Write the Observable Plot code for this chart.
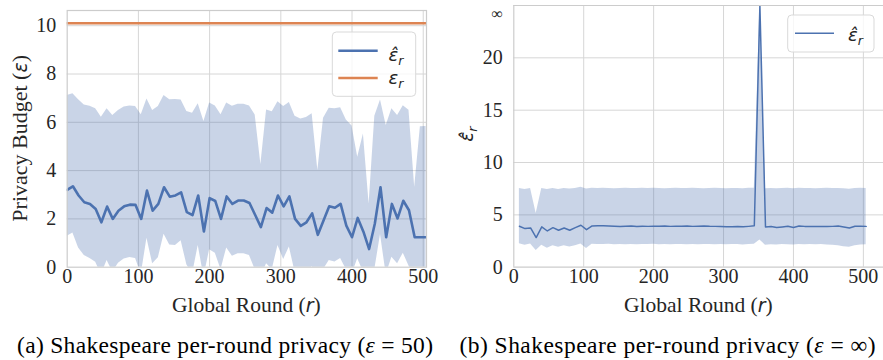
<!DOCTYPE html>
<html><head><meta charset="utf-8">
<script src="https://cdn.jsdelivr.net/npm/d3@7"></script>
<script src="https://cdn.jsdelivr.net/npm/@observablehq/plot@0.6"></script>
<style>
body{margin:0;background:#fff;}
#wrap{position:relative;width:883px;height:360px;overflow:hidden;background:#fff;}
#wrap > svg, #wrap > figure{position:absolute;margin:0;}
</style></head><body><div id="wrap"></div>
<script>
// ---------- data: panel (a) ----------
const roundsA = [0,8,16,24,32,40,48,56,64,72,80,88,96,104,112,120,128,136,144,152,160,168,176,184,192,200,208,216,224,232,240,248,256,264,272,280,288,296,304,312,320,328,336,344,352,360,368,376,384,392,400,408,416,424,432,440,448,456,464,472,480,488,496,504];
const meanA = [3.20,3.35,2.97,2.69,2.62,2.41,1.86,2.51,2.00,2.34,
               2.52,2.59,2.58,2.00,3.17,2.34,2.62,3.31,2.92,2.97,
               3.10,2.28,2.16,2.97,1.48,2.86,2.74,2.00,2.93,2.62,
               2.76,2.76,2.66,2.16,1.66,2.45,2.26,2.97,2.52,2.93,
               2.00,1.71,1.86,2.23,1.34,1.93,2.52,2.46,2.62,1.72,
               1.24,2.04,1.47,0.75,1.80,3.31,1.24,2.62,2.02,2.75,
               2.36,1.24,1.24,1.24];
const upperA = [7.11,7.18,6.93,6.72,6.67,6.56,6.21,6.56,6.28,6.49,
                6.63,6.68,6.65,6.31,6.97,6.49,6.65,7.11,6.93,6.94,
                6.92,6.45,6.38,6.77,6.03,6.80,6.68,6.31,6.80,6.66,
                6.75,6.75,6.68,6.30,4.25,6.51,6.44,6.85,6.65,6.82,
                6.25,6.14,6.20,6.35,4.00,6.17,6.58,6.56,6.60,6.10,
                5.85,4.55,5.52,2.62,6.25,6.92,5.87,6.56,6.28,6.69,
                6.50,3.31,5.82,5.83];
const lowerA = [1.28,1.42,0.80,0.48,0.36,0.20,-0.30,0.28,-0.20,0.16,
                0.34,0.40,0.36,-0.30,1.20,0.14,0.39,1.36,0.92,0.90,
                1.10,0.10,-0.30,0.90,-0.40,0.72,0.58,-0.10,0.80,0.45,
                0.56,0.56,0.48,-0.10,-0.40,0.14,-0.10,0.90,0.32,0.84,
                -0.20,-0.50,-0.40,0.03,-0.60,-0.10,0.28,0.22,0.36,-0.10,
                -0.30,0.35,-0.20,-0.80,-0.10,1.35,-0.30,0.41,0.14,0.58,
                0.05,-0.50,-0.50,-0.50];
const epsTarget = 10.1;

// ---------- data: panel (b) ----------
const roundsB = [8,16,24,32,40,48,56,64,72,80,88,96,104,112,120,128,136,144,152,160,168,176,184,192,200,208,216,224,232,240,248,256,264,272,280,288,296,304,312,320,328,336,344,352,360,368,376,384,392,400,408,416,424,432,440,448,456,464,472,480,488,496,504];
const meanB = [3.91,3.69,3.75,2.83,3.85,3.46,3.78,3.53,3.75,3.53,
               3.78,4.01,3.59,3.94,3.95,3.95,3.93,3.92,3.89,3.91,
               3.93,3.88,3.91,3.90,3.92,3.91,3.93,3.90,3.92,3.91,
               3.93,3.90,3.92,3.94,3.91,3.90,3.88,3.87,3.87,3.88,
               3.86,3.90,3.95,25,3.85,3.88,3.79,3.85,3.92,3.80,
               3.93,3.90,3.90,3.88,3.90,3.89,3.90,3.93,3.85,3.75,
               3.92,3.92,3.90];
const upperB = [7.53,7.43,7.53,5.13,7.53,7.43,7.53,7.43,7.53,7.47,
                7.53,7.63,7.47,7.55,7.52,7.55,7.53,7.50,7.52,7.55,
                7.53,7.51,7.54,7.52,7.55,7.53,7.50,7.52,7.54,7.53,
                7.51,7.54,7.52,7.50,7.53,7.55,7.52,7.50,7.53,7.52,
                7.50,7.54,7.55,25,7.50,7.52,7.49,7.53,7.55,7.50,
                7.54,7.52,7.53,7.50,7.52,7.55,7.53,7.51,7.49,7.45,
                7.52,7.54,7.53];
const lowerB = [2.25,2.09,2.22,1.60,2.09,1.80,2.05,1.90,2.05,1.93,
                2.05,2.22,1.78,2.20,2.18,2.16,2.19,2.15,2.17,2.14,
                2.18,2.15,2.17,2.16,2.19,2.14,2.17,2.15,2.18,2.16,
                2.14,2.17,2.15,2.18,2.16,2.14,2.17,2.15,2.18,2.16,
                2.13,2.18,2.20,2.60,2.10,2.14,2.12,2.17,2.15,2.12,
                2.18,2.15,2.17,2.14,2.16,2.12,2.10,2.06,1.95,1.90,
                2.05,2.13,2.15];

const xTicks = [0,100,200,300,400,500];
const yTicksA = [0,2,4,6,8,10];
const yTicksB = [0,5,10,15,20,25];

const BLUE = "#4c72b0", ORANGE = "#dd8452", GRID = "#d6d6d6", SPINE = "#cccccc";
const TXT = "#262626";
const SERIF = "'Liberation Serif', serif";
const MATH = "'DejaVu Sans', sans-serif";

const dataA = roundsA.map((r, i) => ({r, mean: meanA[i], lo: lowerA[i], hi: upperA[i]}));
const dataB = roundsB.map((r, i) => ({r, mean: meanB[i], lo: lowerB[i], hi: upperB[i]}));

const wrap = document.getElementById("wrap");

const plotA = Plot.plot({
  width: 440, height: 320,
  marginLeft: 66.7, marginRight: 14, marginTop: 10, marginBottom: 53.3,
  style: {fontFamily: SERIF, fontSize: "20px", color: TXT, background: "transparent", overflow: "visible"},
  x: {domain: [0, 504.6], ticks: xTicks, tickSize: 0, tickPadding: 2, label: null},
  y: {domain: [0, 10.63], ticks: yTicksA, tickSize: 0, tickPadding: 11, label: null},
  marks: [
    Plot.gridX(xTicks.slice(1), {stroke: GRID, strokeOpacity: 1, strokeWidth: 1}),
    Plot.gridY(yTicksA.slice(1), {stroke: GRID, strokeOpacity: 1, strokeWidth: 1}),
    Plot.areaY(dataA, {x: "r", y1: "lo", y2: "hi", fill: BLUE, fillOpacity: 0.3, clip: true}),
    Plot.lineY(dataA, {x: "r", y: "mean", stroke: BLUE, strokeWidth: 2.6, clip: true}),
    Plot.ruleY([epsTarget], {stroke: ORANGE, strokeWidth: 2.6}),
    Plot.frame({stroke: SPINE, strokeWidth: 1.2})
  ]
});
plotA.style.left = "0px"; plotA.style.top = "0px";
wrap.appendChild(plotA);

const plotB = Plot.plot({
  width: 446, height: 320,
  marginLeft: 73.3, marginRight: 3, marginTop: 5, marginBottom: 53.3,
  style: {fontFamily: SERIF, fontSize: "20px", color: TXT, background: "transparent", overflow: "visible"},
  x: {domain: [0, 528.8], ticks: xTicks, tickSize: 0, tickPadding: 2, label: null},
  y: {domain: [0, 25], ticks: yTicksB, tickSize: 0, tickPadding: 11, label: null,
      tickFormat: d => d === 25 ? "∞" : String(d)},
  marks: [
    Plot.gridX(xTicks.slice(1), {stroke: GRID, strokeOpacity: 1, strokeWidth: 1}),
    Plot.gridY(yTicksB.slice(1, 5), {stroke: GRID, strokeOpacity: 1, strokeWidth: 1}),
    Plot.areaY(dataB, {x: "r", y1: "lo", y2: "hi", fill: BLUE, fillOpacity: 0.3, clip: true}),
    Plot.lineY(dataB, {x: "r", y: "mean", stroke: BLUE, strokeWidth: 1.5, clip: true}),
    Plot.ruleX([0], {stroke: SPINE, strokeWidth: 1.2}),
    Plot.ruleY([0, 25], {stroke: SPINE, strokeWidth: 1.2})
  ]
});
plotB.style.left = "440px"; plotB.style.top = "0px";
wrap.appendChild(plotB);
// smaller infinity tick, nudged down like the reference
d3.select(plotB).selectAll("text").filter(function(){ return this.textContent === "∞"; })
  .style("font-size", "16px").attr("dy", "0.5em");

// ---------- overlay: labels, legends, captions ----------
const ov = d3.select(wrap).append("svg")
  .attr("width", 883).attr("height", 360)
  .style("left", "0px").style("top", "0px");

function epsText(g, x, y, hat, size, anchor) {
  const t = g.append("text").attr("x", x).attr("y", y)
    .attr("font-family", MATH).attr("font-style", "italic")
    .attr("font-size", size).attr("fill", TXT)
    .attr("text-anchor", anchor || "start");
  t.append("tspan").text(hat ? "ε\u0302" : "ε");
  t.append("tspan").attr("font-size", size * 0.7).attr("dy", size * 0.22).text("r");
  return t;
}

// axis labels
function xLabel(cx) {
  const t = ov.append("text").attr("x", cx).attr("y", 312)
    .attr("text-anchor", "middle").attr("font-family", SERIF)
    .attr("font-size", 21.5).attr("fill", TXT);
  t.append("tspan").text("Global Round (");
  t.append("tspan").attr("font-family", MATH).attr("font-style", "italic").attr("font-size", 19).text("r");
  t.append("tspan").text(")");
}
xLabel(246.3);
xLabel(698.4);

const yl = ov.append("text").attr("transform", "translate(26.5,138.3) rotate(-90)")
  .attr("text-anchor", "middle").attr("font-family", SERIF)
  .attr("font-size", 22).attr("fill", TXT);
yl.append("tspan").text("Privacy Budget (");
yl.append("tspan").attr("font-family", MATH).attr("font-style", "italic").attr("font-size", 19).text("ε");
yl.append("tspan").text(")");

const yr = ov.append("g").attr("transform", "translate(473,134) rotate(-90)");
epsText(yr, 0, 0, true, 18.5, "middle");

// legend (a)
const la = ov.append("g");
la.append("rect").attr("x", 332.3).attr("y", 32).attr("width", 83.4).attr("height", 64.3)
  .attr("rx", 4).attr("fill", "#fff").attr("fill-opacity", 0.8)
  .attr("stroke", "#d9d9d9").attr("stroke-width", 1);
la.append("line").attr("x1", 338.3).attr("x2", 377.7).attr("y1", 50.7).attr("y2", 50.7)
  .attr("stroke", BLUE).attr("stroke-width", 2.6);
la.append("line").attr("x1", 338.3).attr("x2", 377.7).attr("y1", 78).attr("y2", 78)
  .attr("stroke", ORANGE).attr("stroke-width", 2.6);
epsText(la, 388.5, 60.7, true, 18);
epsText(la, 388.5, 84, false, 18);

// legend (b)
const lb = ov.append("g");
lb.append("rect").attr("x", 787.7).attr("y", 15).attr("width", 86.3).attr("height", 37)
  .attr("rx", 4).attr("fill", "#fff").attr("fill-opacity", 0.8)
  .attr("stroke", "#d9d9d9").attr("stroke-width", 1);
lb.append("line").attr("x1", 795).attr("x2", 834).attr("y1", 33.3).attr("y2", 33.3)
  .attr("stroke", BLUE).attr("stroke-width", 1.5);
epsText(lb, 848, 41, true, 18);

// captions
function caption(cx, label, val) {
  const t = ov.append("text").attr("x", cx).attr("y", 352.5)
    .attr("text-anchor", "middle").attr("font-family", SERIF)
    .attr("font-size", 23.5).attr("fill", "#000")
    .attr("textLength", 416).attr("lengthAdjust", "spacing");
  t.append("tspan").text(label + " Shakespeare per-round privacy (");
  t.append("tspan").attr("font-style", "italic").text("ε");
  t.append("tspan").text(" = " + val + ")");
}
caption(225, "(a)", "50");
caption(667.5, "(b)", "∞");
</script></body></html>
